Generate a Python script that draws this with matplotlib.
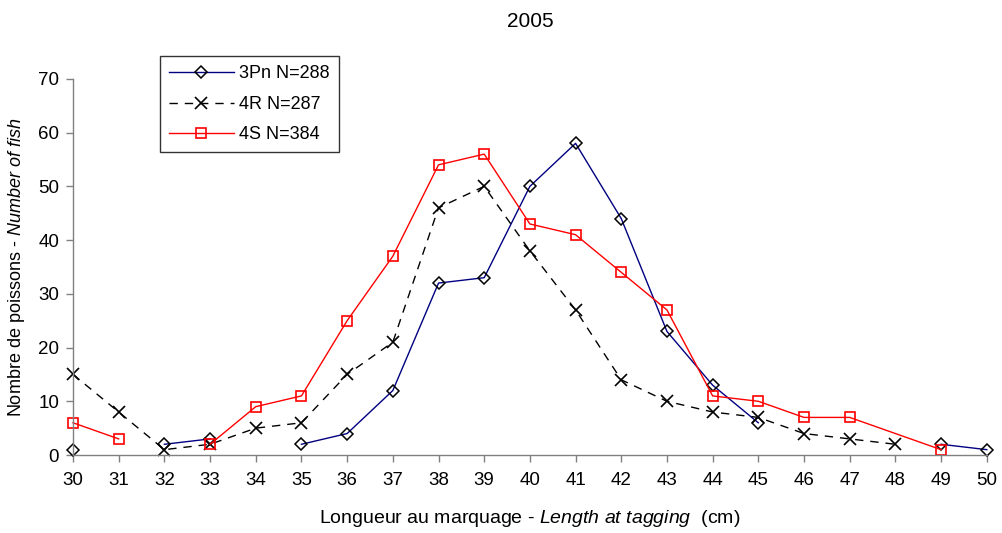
import numpy as np
import matplotlib
matplotlib.use("Agg")
import matplotlib.pyplot as plt

plt.rcParams['font.family'] = ['Liberation Sans', 'DejaVu Sans']
plt.rcParams['mathtext.fontset'] = 'custom'
plt.rcParams['mathtext.rm'] = 'Liberation Sans'
plt.rcParams['mathtext.it'] = 'Liberation Sans:italic'

lengths = list(range(30, 51))
nan = np.nan
pn3 = [1, nan, 2, 3, nan, 2, 4, 12, 32, 33, 50, 58, 44, 23, 13, 6, nan, nan, nan, 2, 1]
r4 = [15, 8, 1, 2, 5, 6, 15, 21, 46, 50, 38, 27, 14, 10, 8, 7, 4, 3, 2, nan, nan]
s4_x = [30, 31, 32, 33, 34, 35, 36, 37, 38, 39, 40, 41, 42, 43, 44, 45, 46, 47, 49]
s4 = [6, 3, nan, 2, 9, 11, 25, 37, 54, 56, 43, 41, 34, 27, 11, 10, 7, 7, 1]
labels = ["3Pn N=288", "4R N=287", "4S N=384"]

fig = plt.figure(figsize=(10.03, 5.33), dpi=100)
ax = fig.add_axes([0.0728, 0.1463, 0.911, 0.7057])

ax.plot(lengths, pn3, color='#000080', lw=1, marker='D', ms=6.5, mfc='none',
        mec='black', mew=1.1, label=labels[0])
ax.plot(lengths, r4, color='black', lw=1, ls=(0, (6, 5)), marker='x', ms=9,
        mec='black', mew=1.2, label=labels[1])
ax.plot(s4_x, s4, color='#FF0000', lw=1, marker='s', ms=7.5, mfc='none',
        mec='#FF0000', mew=1.2, label=labels[2])

ax.set_xlim(30, 50)
ax.set_ylim(0, 70)
ax.set_xticks(lengths)
ax.set_yticks(range(0, 71, 10))
ax.spines['top'].set_visible(False)
ax.spines['right'].set_visible(False)
for s in ['left', 'bottom']:
    ax.spines[s].set_color('#808080')
    ax.spines[s].set_linewidth(1)
ax.tick_params(axis='both', direction='out', length=5, width=1, color='#808080',
               labelsize=13.5, labelcolor='black')
ax.tick_params(axis='x', pad=7)
ax.tick_params(axis='y', pad=5)
for line in ax.get_lines():
    line.set_clip_on(False)

ax.set_title("2005", fontsize=15, pad=37)
ax.set_xlabel("Longueur au marquage - $\\it{Length\\ at\\ tagging}$  (cm)", fontsize=14, labelpad=14)
ax.set_ylabel("Nombre de poissons - $\\it{Number\\ of\\ fish}$", fontsize=13, labelpad=8)

leg = ax.legend(loc='upper left', bbox_to_anchor=(0.095, 1.06), fontsize=13,
                frameon=True, fancybox=False, edgecolor='black', handlelength=3.6,
                borderpad=0.5, labelspacing=0.75, handletextpad=0.3, borderaxespad=0)
leg.get_frame().set_linewidth(1)

fig.savefig("out.png", dpi=100)
